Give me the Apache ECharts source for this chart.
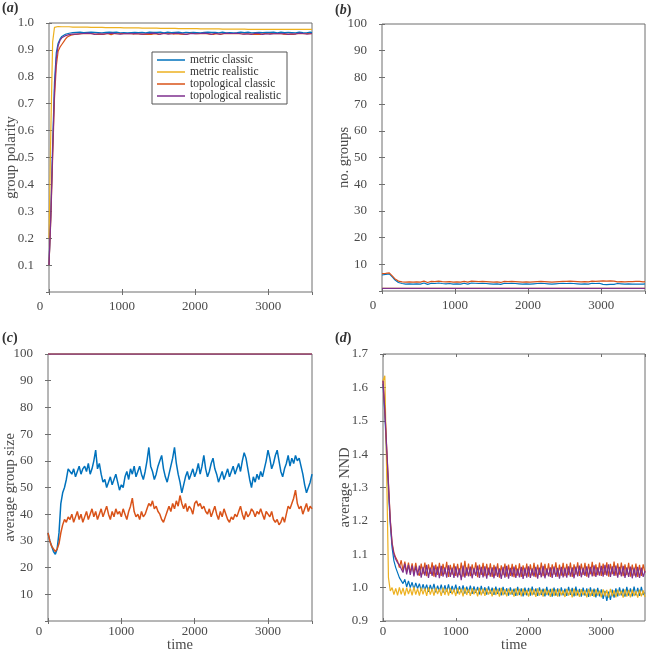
<!DOCTYPE html>
<html>
<head>
<meta charset="utf-8">
<script src="https://cdn.jsdelivr.net/npm/echarts@6/dist/echarts.min.js"></script>
<style>html,body{margin:0;padding:0;background:#fff}#c{width:646px;height:655px}</style>
</head>
<body>
<div id="c"></div>
<script>
// ---- time grid (step 25) ----
const timeStep = 25;
const timeEnds = [0, 3600];

// ---- (a) group polarity ----
const metricClassicPolarity = [
0.10,0.30,0.55,0.78,0.89,0.925,0.94,0.95,0.955,0.958,0.960,0.962,0.963,0.964,0.963,0.965,0.964,0.966,0.965,0.964,
0.966,0.965,0.963,0.966,0.964,0.965,0.967,0.964,0.965,0.963,0.966,0.965,0.964,0.966,0.963,0.965,0.964,0.966,0.965,0.963,
0.965,0.964,0.966,0.963,0.965,0.964,0.966,0.965,0.963,0.964,0.966,0.965,0.964,0.963,0.965,0.966,0.964,0.965,0.963,0.965,
0.964,0.966,0.965,0.963,0.964,0.966,0.965,0.964,0.963,0.965,0.964,0.966,0.965,0.963,0.964,0.965,0.966,0.964,0.963,0.965,
0.966,0.964,0.965,0.963,0.966,0.965,0.964,0.966,0.963,0.965,0.964,0.965,0.966,0.963,0.964,0.966,0.965,0.963,0.965,0.964,
0.965,0.963,0.966,0.964,0.965,0.966,0.963,0.964,0.965,0.966,0.964,0.963,0.965,0.964,0.966,0.965,0.963,0.964,0.966,0.965,
0.963,0.965,0.964,0.966,0.965,0.963,0.964,0.966,0.965,0.964,0.963,0.965,0.966,0.964,0.965,0.963,0.964,0.966,0.965,0.964,
0.965,0.963,0.964,0.966,0.964];
const metricRealisticPolarity = [
0.20,0.60,0.93,0.984,0.987,0.987,0.987,0.986,0.986,0.986,0.986,0.986,0.986,0.985,0.985,0.985,0.985,0.985,0.985,0.985,
0.985,0.985,0.984,0.984,0.984,0.984,0.984,0.984,0.984,0.984,0.984,0.983,0.983,0.983,0.983,0.983,0.983,0.983,0.983,0.983,
0.983,0.982,0.982,0.982,0.982,0.982,0.982,0.982,0.982,0.982,0.981,0.981,0.981,0.981,0.981,0.981,0.981,0.981,0.981,0.981,
0.980,0.980,0.980,0.980,0.980,0.980,0.980,0.980,0.980,0.980,0.980,0.979,0.979,0.979,0.979,0.979,0.979,0.979,0.979,0.979,
0.979,0.979,0.979,0.978,0.978,0.978,0.978,0.978,0.978,0.978,0.978,0.978,0.978,0.978,0.978,0.977,0.977,0.977,0.977,0.977,
0.977,0.977,0.977,0.977,0.977,0.977,0.977,0.977,0.977,0.976,0.976,0.976,0.976,0.976,0.976,0.976,0.976,0.976,0.976,0.976,
0.976,0.976,0.976,0.976,0.976,0.976,0.976,0.976,0.976,0.976,0.976,0.976,0.976,0.976,0.976,0.976,0.976,0.976,0.976,0.976,
0.976,0.976,0.976,0.976,0.976];
const topoClassicPolarity = [
0.10,0.27,0.50,0.72,0.84,0.895,0.91,0.92,0.93,0.94,0.948,0.952,0.955,0.956,0.958,0.957,0.959,0.958,0.960,0.959,
0.960,0.958,0.961,0.959,0.960,0.962,0.958,0.960,0.959,0.961,0.958,0.960,0.961,0.959,0.957,0.960,0.961,0.959,0.960,0.958,
0.961,0.959,0.960,0.958,0.961,0.960,0.959,0.957,0.960,0.962,0.959,0.960,0.958,0.961,0.959,0.960,0.958,0.961,0.960,0.959,
0.958,0.960,0.961,0.959,0.960,0.958,0.961,0.960,0.959,0.957,0.960,0.961,0.959,0.960,0.958,0.961,0.959,0.960,0.962,0.959,
0.960,0.958,0.961,0.959,0.960,0.957,0.960,0.961,0.959,0.960,0.958,0.961,0.960,0.959,0.958,0.960,0.961,0.959,0.960,0.958,
0.961,0.959,0.960,0.958,0.961,0.960,0.959,0.957,0.960,0.961,0.959,0.960,0.958,0.961,0.959,0.960,0.958,0.960,0.961,0.959,
0.960,0.958,0.961,0.959,0.960,0.958,0.961,0.960,0.959,0.960,0.958,0.961,0.959,0.960,0.958,0.960,0.961,0.959,0.960,0.958,
0.960,0.959,0.961,0.959,0.960];
const topoRealisticPolarity = [
0.10,0.28,0.52,0.75,0.87,0.915,0.935,0.945,0.950,0.953,0.955,0.957,0.958,0.959,0.960,0.959,0.961,0.960,0.959,0.961,
0.960,0.962,0.959,0.961,0.960,0.958,0.961,0.960,0.962,0.959,0.961,0.960,0.958,0.961,0.960,0.962,0.959,0.960,0.961,0.959,
0.962,0.960,0.959,0.961,0.958,0.960,0.962,0.961,0.959,0.960,0.961,0.959,0.962,0.960,0.958,0.961,0.960,0.962,0.959,0.961,
0.960,0.958,0.961,0.962,0.960,0.959,0.961,0.960,0.958,0.962,0.960,0.961,0.959,0.960,0.962,0.958,0.961,0.960,0.959,0.961,
0.962,0.960,0.958,0.961,0.960,0.962,0.959,0.961,0.960,0.958,0.961,0.962,0.960,0.959,0.961,0.960,0.958,0.962,0.960,0.961,
0.959,0.961,0.960,0.962,0.958,0.960,0.961,0.959,0.962,0.960,0.961,0.958,0.960,0.962,0.959,0.961,0.960,0.958,0.961,0.960,
0.962,0.959,0.961,0.960,0.958,0.961,0.962,0.960,0.959,0.961,0.960,0.958,0.962,0.960,0.961,0.959,0.960,0.962,0.958,0.961,
0.960,0.959,0.961,0.960,0.961];

// ---- (b) no. groups ----
const metricClassicGroups = [
6.0,6.5,6.2,6.8,6.4,6.0,5.0,4.2,3.6,3.2,3.0,2.8,2.9,2.6,2.8,2.7,2.9,2.6,2.8,2.7,
2.9,2.6,2.8,3.0,2.7,2.5,2.8,2.9,2.6,2.8,2.7,3.0,2.6,2.8,2.9,2.7,2.5,2.8,2.9,2.6,
2.8,2.7,3.0,2.6,2.8,2.9,2.7,2.6,2.8,3.0,2.7,2.9,2.6,2.8,2.7,2.9,2.6,2.8,3.0,2.7,
2.8,2.6,2.9,2.7,2.8,2.5,2.7,2.9,2.6,2.8,2.7,2.9,2.6,2.8,3.0,2.7,2.8,2.6,2.9,2.7,
2.8,2.6,2.9,2.7,2.5,2.8,2.6,2.9,2.7,2.8,2.6,2.7,2.9,2.6,2.8,2.7,2.5,2.8,2.7,2.9,
2.6,2.8,2.7,2.9,2.6,2.8,3.0,2.7,2.8,2.6,2.9,2.7,2.8,2.6,2.7,2.9,2.6,2.8,2.7,2.9,
2.7,2.5,2.6,2.4,2.6,2.5,2.7,2.5,2.6,2.8,2.6,2.7,2.8,2.6,2.9,2.7,2.8,2.6,2.7,2.6,
2.8,2.6,2.7,2.6,2.7];
const topoClassicGroups = [
6.5,7.0,6.6,7.2,6.8,6.3,5.4,4.6,4.0,3.7,3.5,3.4,3.6,3.3,3.5,3.4,3.6,3.3,3.5,3.4,
3.6,3.3,3.5,3.7,3.4,3.2,3.5,3.6,3.3,3.5,3.4,3.7,3.3,3.5,3.6,3.4,3.2,3.5,3.6,3.3,
3.5,3.4,3.7,3.3,3.5,3.6,3.4,3.3,3.5,3.7,3.4,3.6,3.3,3.5,3.4,3.6,3.3,3.5,3.7,3.4,
3.5,3.3,3.6,3.4,3.5,3.2,3.4,3.6,3.3,3.5,3.4,3.6,3.3,3.5,3.7,3.4,3.5,3.3,3.6,3.4,
3.5,3.3,3.6,3.4,3.2,3.5,3.3,3.6,3.4,3.5,3.3,3.4,3.6,3.3,3.5,3.4,3.2,3.5,3.4,3.6,
3.4,3.6,3.5,3.7,3.4,3.6,3.8,3.5,3.6,3.4,3.7,3.5,3.6,3.4,3.5,3.7,3.4,3.6,3.5,3.7,
3.6,3.8,3.5,3.7,3.6,3.8,3.5,3.7,3.6,3.4,3.6,3.5,3.7,3.4,3.6,3.5,3.3,3.5,3.4,3.6,
3.4,3.6,3.5,3.4,3.5];
const metricRealisticGroups = [1, 1];
const topoRealisticGroups = [1, 1];

// ---- (c) average group size ----
const metricClassicSize = [
33,30,28,26,25,27,33,44,48,50,53,57,56,55,57,54,56,58,55,57,
58,56,59,55,57,60,64,57,59,55,52,53,50,52,54,51,53,55,52,49,
51,50,54,56,53,57,55,58,54,56,58,55,53,56,60,65,58,56,53,55,
58,60,62,57,54,52,55,58,61,65,59,55,52,48,51,54,56,53,55,57,
54,56,59,55,58,62,57,54,56,59,61,57,55,52,54,56,53,55,57,54,
56,58,55,57,59,56,60,63,61,57,53,50,54,52,55,53,56,54,57,60,
64,61,57,59,62,64,60,56,54,57,59,62,58,61,59,62,60,61,58,55,
51,48,50,52,55];
const topoClassicSize = [
33,30,28,27,26,27,29,33,36,38,37,39,38,40,37,39,41,38,40,37,
39,41,38,40,42,39,41,38,40,42,39,41,43,40,38,41,39,42,40,41,
39,42,40,38,41,43,46,41,39,40,38,41,39,40,42,44,43,45,42,43,
41,40,38,37,39,41,43,41,44,42,45,43,47,44,42,44,41,43,42,40,
44,45,43,44,42,43,41,40,42,39,41,43,40,38,41,39,42,40,38,37,
39,38,40,39,41,43,40,38,41,39,40,42,41,39,41,40,42,40,38,41,
40,39,41,38,37,38,36,37,39,37,40,43,42,44,46,49,44,42,43,40,
42,44,41,43,42];
const metricRealisticSize = [100, 100];
const topoRealisticSize = [100, 100];

// ---- (d) average NND ----
const metricClassicNND = [
1.61,1.52,1.40,1.29,1.19,1.12,1.08,1.06,1.045,1.03,1.035,1.012,1.025,1.002,1.020,1.000,1.016,0.995,1.014,0.997,
1.012,0.990,1.010,0.992,1.009,0.987,1.008,0.990,1.011,0.986,1.006,0.989,1.009,0.985,1.007,0.988,1.010,0.984,1.005,0.987,
1.009,0.983,1.004,0.986,1.007,0.982,1.003,0.985,1.006,0.981,1.004,0.984,1.002,0.980,1.005,0.983,1.001,0.979,1.004,0.982,
1.000,0.978,1.003,0.981,0.999,0.977,1.002,0.980,0.998,0.976,1.001,0.979,0.997,0.975,1.002,0.978,0.998,0.974,1.000,0.977,
0.999,0.976,1.003,0.979,0.998,0.975,1.001,0.978,0.997,0.974,1.002,0.977,0.996,0.973,1.000,0.976,0.998,0.974,1.001,0.977,
0.997,0.975,1.002,0.978,0.999,0.974,1.003,0.977,0.996,0.973,1.000,0.976,0.998,0.972,1.001,0.975,0.997,0.971,0.999,0.974,
0.995,0.966,0.990,0.960,0.988,0.963,0.994,0.970,0.998,0.974,1.001,0.977,0.997,0.973,1.002,0.976,0.998,0.974,1.003,0.977,
0.999,0.975,1.002,0.978,0.985];
const metricRealisticNND = [
1.62,1.635,1.35,1.03,0.99,1.000,0.979,0.998,0.977,1.001,0.980,0.999,0.976,1.000,0.981,0.998,0.977,1.002,0.979,0.997,
0.976,1.000,0.980,0.998,0.975,1.001,0.979,0.997,0.976,0.999,0.981,0.996,0.975,1.000,0.978,0.998,0.976,0.999,0.980,0.995,
0.975,0.999,0.979,0.997,0.974,1.000,0.978,0.996,0.975,0.998,0.980,0.995,0.974,0.999,0.977,0.997,0.975,0.998,0.979,0.994,
0.974,0.998,0.978,0.996,0.973,0.999,0.977,0.995,0.974,0.997,0.979,0.994,0.973,0.998,0.976,0.996,0.974,0.997,0.978,0.993,
0.973,0.997,0.977,0.995,0.972,0.998,0.976,0.994,0.973,0.996,0.978,0.993,0.972,0.997,0.975,0.995,0.973,0.996,0.977,0.992,
0.972,0.996,0.976,0.994,0.971,0.997,0.975,0.993,0.972,0.995,0.977,0.992,0.971,0.996,0.974,0.994,0.972,0.995,0.976,0.991,
0.971,0.995,0.975,0.993,0.970,0.996,0.974,0.992,0.971,0.994,0.976,0.991,0.970,0.995,0.973,0.993,0.971,0.994,0.975,0.990,
0.970,0.994,0.974,0.992,0.972];
const topoClassicNND = [
1.62,1.535,1.425,1.315,1.205,1.135,1.105,1.090,1.080,1.060,1.082,1.050,1.078,1.046,1.075,1.044,1.073,1.042,1.074,1.045,
1.036,1.072,1.040,1.075,1.034,1.070,1.041,1.076,1.033,1.069,1.038,1.074,1.035,1.071,1.040,1.077,1.032,1.068,1.039,1.073,
1.035,1.071,1.037,1.075,1.033,1.080,1.036,1.072,1.034,1.070,1.039,1.076,1.031,1.069,1.038,1.074,1.034,1.071,1.037,1.073,
1.032,1.068,1.036,1.073,1.030,1.067,1.037,1.072,1.033,1.069,1.035,1.071,1.031,1.068,1.036,1.073,1.032,1.067,1.035,1.072,
1.033,1.070,1.036,1.074,1.031,1.069,1.038,1.075,1.034,1.071,1.037,1.073,1.032,1.070,1.039,1.076,1.033,1.069,1.036,1.074,
1.034,1.071,1.037,1.075,1.032,1.070,1.039,1.076,1.035,1.072,1.038,1.074,1.033,1.071,1.040,1.077,1.034,1.070,1.037,1.075,
1.035,1.072,1.038,1.076,1.033,1.071,1.040,1.078,1.036,1.073,1.039,1.075,1.034,1.070,1.037,1.074,1.033,1.069,1.036,1.072,
1.032,1.068,1.035,1.070,1.044];
const topoRealisticNND = [
1.62,1.53,1.42,1.31,1.20,1.13,1.10,1.085,1.075,1.068,1.063,1.045,1.072,1.040,1.068,1.038,1.066,1.034,1.064,1.037,
1.066,1.030,1.062,1.036,1.068,1.029,1.060,1.035,1.066,1.031,1.063,1.028,1.065,1.033,1.061,1.030,1.067,1.032,1.060,1.029,
1.064,1.031,1.058,1.022,1.066,1.030,1.061,1.034,1.063,1.028,1.059,1.035,1.066,1.029,1.062,1.031,1.064,1.027,1.060,1.033,
1.061,1.028,1.063,1.032,1.058,1.026,1.062,1.030,1.065,1.027,1.059,1.033,1.063,1.029,1.057,1.031,1.062,1.026,1.060,1.030,
1.064,1.029,1.058,1.033,1.062,1.027,1.060,1.031,1.065,1.028,1.058,1.034,1.061,1.029,1.063,1.032,1.059,1.027,1.062,1.031,
1.060,1.030,1.064,1.033,1.061,1.028,1.063,1.034,1.066,1.031,1.060,1.035,1.064,1.030,1.062,1.034,1.067,1.032,1.061,1.036,
1.065,1.033,1.068,1.036,1.070,1.032,1.064,1.035,1.066,1.030,1.062,1.034,1.065,1.029,1.061,1.032,1.063,1.028,1.060,1.031,
1.062,1.029,1.060,1.032,1.050];

// ---- labels ----
const seriesNames = ['metric classic', 'metric realistic', 'topological classic', 'topological realistic'];
const colors = ['#0072BD', '#EDB120', '#D95319', '#7E2F8E'];
const yNames = ['group polarity', 'no. groups', 'average group size', 'average NND'];
const panelLetters = ['a', 'b', 'c', 'd'];

const FONT = '"Liberation Serif","DejaVu Serif",serif';
const TXT = '#4a4a4a';

function fine(vals) { return vals.map((v, i) => [i * timeStep, v]); }
function ends(vals) { return vals.map((v, i) => [timeEnds[i], v]); }

const grids = [
  {left: 49, top: 23, width: 263, height: 269},
  {left: 382, top: 24, width: 263, height: 267},
  {left: 48, top: 354, width: 264, height: 267},
  {left: 383, top: 354, width: 262, height: 267}
].map(g => Object.assign(g, {show: true, borderColor: '#6e6e6e', borderWidth: 1, backgroundColor: 'transparent'}));

const tick = {inside: true, length: 3, lineStyle: {color: '#6e6e6e'}};
const labelBase = {fontFamily: FONT, fontSize: 13, color: TXT};
const nameStyle = {fontFamily: FONT, fontSize: 14.5, color: TXT};
const xLabelMargin = [8, 8, 4, 4];

const xAxes = [];
const yAxes = [];
const yRanges = [[0, 1, 0.1, true], [0, 100, 10, false], [0, 100, 10, false], [0.9, 1.7, 0.1, true]];
for (let i = 0; i < 4; i++) {
  const shiftZero = i !== 3;
  xAxes.push({
    type: 'value', gridIndex: i, min: 0, max: 3600, interval: 1000,
    axisLine: {show: false}, axisTick: tick, splitLine: {show: false},
    axisLabel: Object.assign({}, labelBase, {
      margin: xLabelMargin[i], showMaxLabel: false,
      formatter: v => (v === 0 && shiftZero) ? '{z|0}' : String(v),
      rich: {z: {fontFamily: FONT, fontSize: 13, color: TXT, padding: [0, 18, 0, 0]}}
    }),
    name: i >= 2 ? 'time' : '', nameLocation: 'middle', nameGap: 17, nameMoveOverlap: false,
    nameTextStyle: nameStyle
  });
  const r = yRanges[i];
  yAxes.push({
    type: 'value', gridIndex: i, min: r[0], max: r[1], interval: r[2],
    axisLine: {show: false}, axisTick: tick, splitLine: {show: false},
    axisLabel: Object.assign({}, labelBase, {
      margin: 15, showMinLabel: i === 3,
      formatter: v => r[3] ? v.toFixed(1) : String(Math.round(v))
    }),
    name: yNames[i], nameLocation: 'middle', nameGap: 30, nameRotate: 90, nameMoveOverlap: false,
    nameTextStyle: nameStyle
  });
}
// mirrored ticks (top / right)
for (let i = 0; i < 4; i++) {
  const r = yRanges[i];
  xAxes.push({type: 'value', gridIndex: i, position: 'top', min: 0, max: 3600, interval: 1000,
    axisLine: {show: false}, axisTick: tick, axisLabel: {show: false}, splitLine: {show: false}});
  yAxes.push({type: 'value', gridIndex: i, position: 'right', min: r[0], max: r[1], interval: r[2],
    axisLine: {show: false}, axisTick: tick, axisLabel: {show: false}, splitLine: {show: false}});
}

const panelData = [
  [fine(metricClassicPolarity), fine(metricRealisticPolarity), fine(topoClassicPolarity), fine(topoRealisticPolarity)],
  [fine(metricClassicGroups), ends(metricRealisticGroups), fine(topoClassicGroups), ends(topoRealisticGroups)],
  [fine(metricClassicSize), ends(metricRealisticSize), fine(topoClassicSize), ends(topoRealisticSize)],
  [fine(metricClassicNND), fine(metricRealisticNND), fine(topoClassicNND), fine(topoRealisticNND)]
];

const series = [];
for (let p = 0; p < 4; p++) {
  for (let s = 0; s < 4; s++) {
    series.push({
      type: 'line', name: seriesNames[s], xAxisIndex: p, yAxisIndex: p,
      data: panelData[p][s], showSymbol: false, symbol: 'none',
      lineStyle: {color: colors[s], width: p === 2 ? 1.5 : 1.2}, itemStyle: {color: colors[s]},
      emphasis: {disabled: true}, silent: true
    });
  }
}

const titlePos = [[2, 1], [335, 3], [2, 331], [335, 331]];
const titles = panelLetters.map((L, i) => ({
  text: '{p|(}{i|' + L + '}{p|)}', left: titlePos[i][0], top: titlePos[i][1], padding: 0,
  textStyle: {rich: {
    p: {fontFamily: FONT, fontSize: 14, color: '#333'},
    i: {fontFamily: FONT, fontSize: 14, color: '#333', fontStyle: 'italic'}
  }}
}));

const chart = echarts.init(document.getElementById('c'), null, {renderer: 'canvas'});
chart.setOption({
  animation: false,
  backgroundColor: '#fff',
  title: titles,
  grid: grids,
  xAxis: xAxes,
  yAxis: yAxes,
  legend: {
    data: seriesNames, orient: 'vertical', left: 152, top: 52,
    icon: 'rect', itemWidth: 28, itemHeight: 1.5, itemGap: 0,
    padding: [2, 6, 2, 5], borderColor: '#555', borderWidth: 1, backgroundColor: '#fff',
    textStyle: {fontFamily: FONT, fontSize: 11.5, color: '#333', lineHeight: 11.3},
    selectedMode: false
  },
  series: series
});
</script>
</body>
</html>
